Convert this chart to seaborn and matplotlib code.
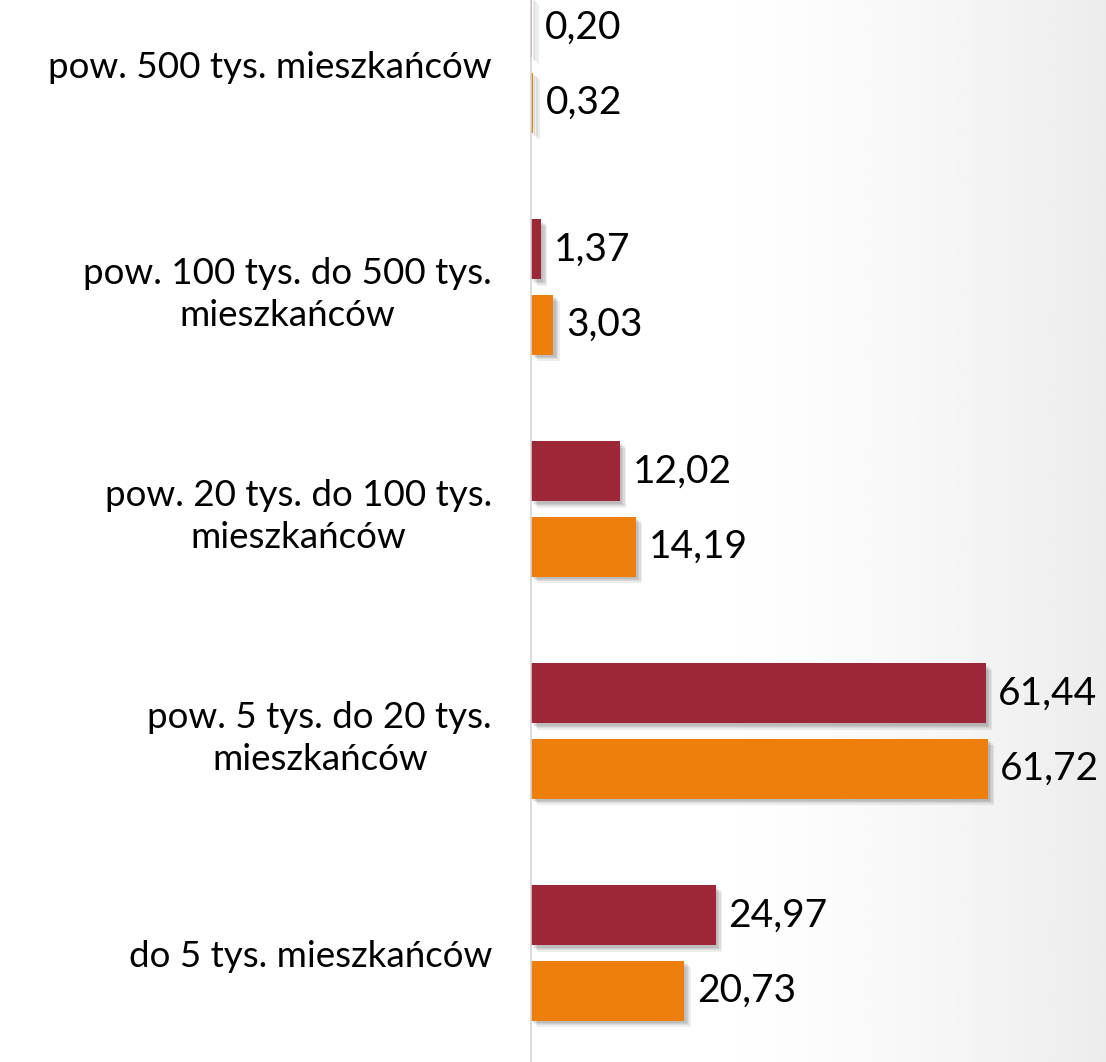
import numpy as np
import pandas as pd
import matplotlib
matplotlib.use("Agg")
import matplotlib.pyplot as plt
import matplotlib.patheffects as pe
import seaborn as sns

categories = [
    "pow. 500 tys. mieszkańców",
    "pow. 100 tys. do 500 tys.\nmieszkańców",
    "pow. 20 tys. do 100 tys.\nmieszkańców",
    "pow. 5 tys. do 20 tys.\nmieszkańców",
    "do 5 tys. mieszkańców",
]
series_names = ["A", "B"]
values_a = [0.20, 1.37, 12.02, 61.44, 24.97]
values_b = [0.32, 3.03, 14.19, 61.72, 20.73]
colors = ["#9E2737", "#EE7F0C"]

df = pd.DataFrame({
    "cat": categories * 2,
    "val": values_a + values_b,
    "ser": [series_names[0]] * 5 + [series_names[1]] * 5,
})

sns.set_theme(style="white")
plt.rcParams["font.family"] = ["Lato", "DejaVu Sans"]

fig = plt.figure(figsize=(11.06, 10.62), dpi=100)

# background gradient (white on left, light gray at the far right)
bg = fig.add_axes([0, 0, 1, 1], zorder=-10)
xx = np.linspace(0, 1, 400)
yy = np.linspace(0, 1, 400)
X, Y = np.meshgrid(xx, yy)
d = np.clip((X - 0.62) / 0.38, 0, 1)
shade = 1 - 0.075 * d ** 1.5
bg.imshow(shade, cmap="gray", vmin=0, vmax=1, extent=[0, 1, 0, 1], aspect="auto", origin="lower")
bg.axis("off")

ax = fig.add_axes([531 / 1106, 0, 1 - 531 / 1106, 1])
ax.patch.set_alpha(0)
sns.barplot(data=df, y="cat", x="val", hue="ser", order=categories,
            hue_order=series_names, palette=colors, orient="h",
            width=0.676, gap=0.2, legend=False, ax=ax, saturation=1,
            linewidth=0)

shadow = [pe.SimplePatchShadow(offset=(o, -o), shadow_rgbFace="#000000", alpha=0.07)
          for o in (4.5, 3.5, 2.5, 1.5)]
for bar in ax.patches:
    bar.set_path_effects(shadow + [pe.Normal()])

for cont in ax.containers:
    labels = [f"{v:.2f}".replace(".", ",") for v in cont.datavalues]
    ax.bar_label(cont, labels=labels, padding=9, fontsize=28, color="black")

ax.set_xlim(0, 575 / 7.40)
ax.set_ylim((1062 - 65) / 222, -65 / 222)
ax.set_xlabel("")
ax.set_ylabel("")
ax.set_xticks([])
for s in ["top", "right", "bottom"]:
    ax.spines[s].set_visible(False)
ax.spines["left"].set_color("#d4d4d4")
ax.spines["left"].set_linewidth(1.2)
ax.tick_params(axis="y", length=0, pad=28, labelsize=26.5, labelcolor="black")
for lbl in ax.get_yticklabels():
    lbl.set_multialignment("center")
    lbl.set_linespacing(1.35)

fig.savefig("out.png", dpi=100)
